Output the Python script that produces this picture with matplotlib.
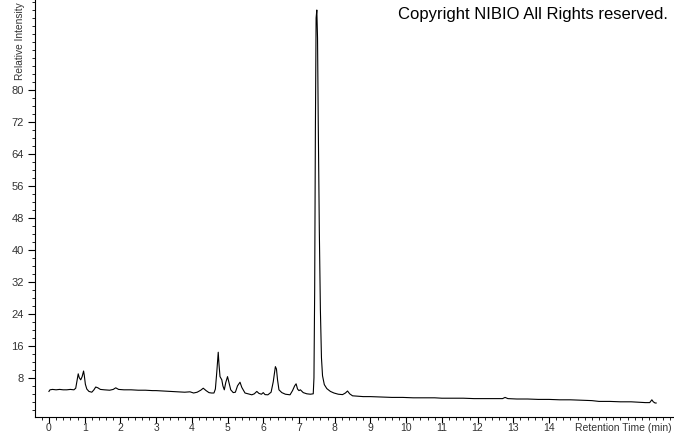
import numpy as np
import matplotlib
matplotlib.use("Agg")
from matplotlib import pyplot as plt
from matplotlib.ticker import MultipleLocator, FixedLocator

# chromatogram trace (retention time [min], relative intensity)
time_min = [
    0.00, 0.03, 0.10, 0.20, 0.30, 0.40, 0.50, 0.60, 0.70, 0.75,
    0.79, 0.82, 0.85, 0.89, 0.93, 0.97, 0.99, 1.02, 1.06, 1.12,
    1.20, 1.26, 1.31, 1.37, 1.44, 1.55, 1.70, 1.80, 1.87, 1.95,
    2.10, 2.30, 2.50, 2.70, 2.90, 3.00, 3.20, 3.40, 3.60, 3.80,
    3.95, 4.05, 4.15, 4.25, 4.32, 4.40, 4.48, 4.55, 4.62, 4.66,
    4.70, 4.74, 4.76, 4.79, 4.84, 4.87, 4.91, 4.95, 5.00, 5.04,
    5.09, 5.16, 5.22, 5.28, 5.35, 5.40, 5.49, 5.58, 5.68, 5.75,
    5.82, 5.88, 5.95, 6.00, 6.05, 6.13, 6.22, 6.28, 6.34, 6.37,
    6.40, 6.44, 6.52, 6.62, 6.75, 6.82, 6.88, 6.92, 6.96, 7.00,
    7.04, 7.12, 7.22, 7.32, 7.40, 7.42, 7.44, 7.46, 7.48, 7.50,
    7.52, 7.54, 7.57, 7.60, 7.63, 7.66, 7.71, 7.78, 7.88, 7.98,
    8.10, 8.22, 8.30, 8.36, 8.42, 8.50, 8.65, 8.80, 9.00, 9.30,
    9.60, 9.90, 10.20, 10.50, 10.80, 11.00, 11.30, 11.60, 11.90, 12.20,
    12.50, 12.70, 12.77, 12.85, 13.10, 13.40, 13.70, 14.00, 14.30, 14.60,
    14.90, 15.20, 15.40, 15.70, 16.00, 16.30, 16.50, 16.70, 16.82, 16.88,
    16.92, 16.97, 17.00,
]
intensity = [
    4.6, 5.0, 5.1, 5.0, 5.1, 5.0, 5.0, 5.1, 5.0, 5.4,
    7.5, 9.0, 8.0, 7.5, 8.3, 9.7, 8.6, 6.4, 5.2, 4.6,
    4.4, 5.0, 5.7, 5.5, 5.1, 5.0, 4.9, 5.1, 5.5, 5.1,
    5.0, 5.0, 4.9, 4.9, 4.8, 4.8, 4.7, 4.6, 4.5, 4.4,
    4.5, 4.2, 4.4, 4.9, 5.4, 4.8, 4.3, 4.2, 4.2, 5.2,
    9.5, 14.4, 11.5, 8.3, 7.5, 6.0, 5.0, 6.8, 8.3, 6.8,
    5.0, 4.3, 4.4, 6.0, 6.9, 5.6, 4.2, 4.0, 3.75, 4.0,
    4.6, 4.1, 3.9, 4.3, 3.8, 3.75, 4.4, 7.0, 10.8, 10.2,
    7.5, 5.0, 4.3, 3.9, 3.75, 4.8, 6.0, 6.5, 5.2, 4.8,
    5.0, 4.3, 4.0, 3.9, 4.0, 8.0, 30.0, 70.0, 98.0, 100.0,
    93.0, 72.0, 45.0, 25.0, 13.0, 8.5, 6.3, 5.3, 4.6, 4.2,
    3.9, 3.8, 4.2, 4.7, 4.0, 3.5, 3.4, 3.3, 3.3, 3.2,
    3.1, 3.1, 3.0, 3.0, 3.0, 2.9, 2.9, 2.9, 2.8, 2.8,
    2.8, 2.8, 3.1, 2.8, 2.7, 2.7, 2.6, 2.6, 2.5, 2.5,
    2.4, 2.3, 2.1, 2.1, 2.0, 2.0, 1.9, 1.8, 1.8, 2.5,
    2.0, 1.7, 1.7,
]

x_labels = [str(i) for i in range(15)]
y_ticks = [8, 16, 24, 32, 40, 48, 56, 64, 72, 80]

fig = plt.figure(figsize=(6.74, 4.34), dpi=100)
ax = fig.add_axes([35 / 674, 1 - 417 / 434, 1 - 35 / 674, 417 / 434])

ax.plot(time_min, intensity, color="black", lw=0.8)

ax.set_xlim(-0.39, 17.5)
ax.set_ylim(-1.8, 102.5)

for side in ["top", "right"]:
    ax.spines[side].set_visible(False)
ax.spines["left"].set_linewidth(0.8)
ax.spines["bottom"].set_linewidth(0.8)

ax.xaxis.set_major_locator(FixedLocator(range(15)))
ax.set_xticklabels(x_labels)
ax.xaxis.set_minor_locator(MultipleLocator(0.2))
ax.yaxis.set_major_locator(FixedLocator(y_ticks))
ax.yaxis.set_minor_locator(MultipleLocator(2))

ax.tick_params(axis="y", which="major", length=5, width=0.8, labelsize=8, pad=3)
ax.tick_params(axis="x", which="major", length=4, width=0.8, labelsize=7.5, pad=0.5)
ax.tick_params(axis="both", which="minor", length=2.5, width=0.6)
for lbl in ax.get_xticklabels() + ax.get_yticklabels():
    lbl.set_family("Liberation Sans")
    lbl.set_color("#333333")

fig.text(20 / 674, 1 - 80 / 434, "Relative Intensity", rotation=90,
         ha="center", va="bottom", fontsize=7.3, family="Liberation Sans",
         color="#333333")
fig.text(672 / 674, 1 - 428 / 434, "Retention Time (min)", ha="right",
         va="center", fontsize=7.5, family="Liberation Sans", color="#333333")
fig.text(668 / 674, 1 - 14 / 434, "Copyright NIBIO All Rights reserved.",
         ha="right", va="center", fontsize=12, family="Liberation Sans",
         color="black")

fig.savefig("out.png", dpi=100)
